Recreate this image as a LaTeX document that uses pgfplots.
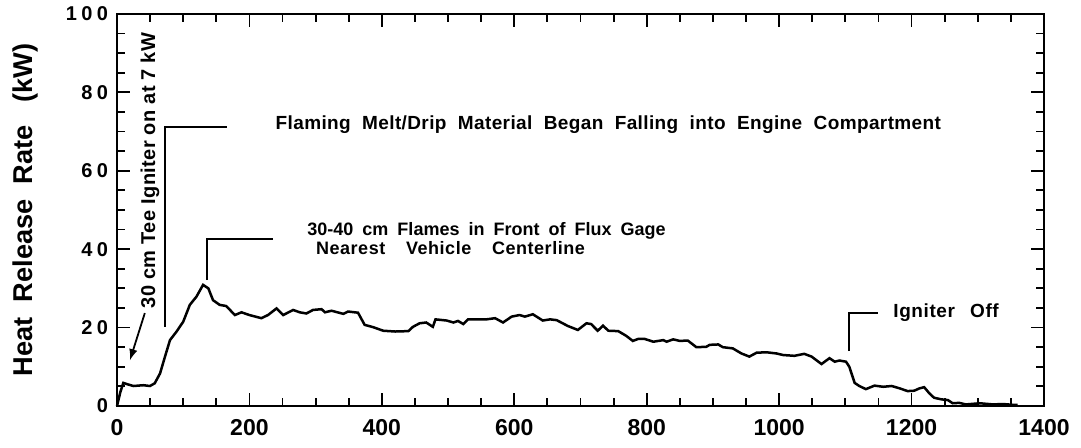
\documentclass[border=0pt]{standalone}
\usepackage{fontspec}
\setmainfont{Liberation Sans}
\newfontfamily\yticks[LetterSpace=22]{Liberation Sans}
\newfontfamily\spaced[LetterSpace=3]{Liberation Sans}
\newfontfamily\spacedb[LetterSpace=2]{Liberation Sans}
\usepackage{pgfplots}
\pgfplotsset{compat=1.18}
\usetikzlibrary{calc}
\newcommand\wide[2]{{\spaceskip=#1\relax #2}}

\begin{document}
\begin{tikzpicture}
\begin{axis}[
  scale only axis,
  width=463.5pt, height=196pt,
  xmin=0, xmax=1400, ymin=0, ymax=100,
  xtick={0,200,...,1400}, ytick={0,20,...,100},
  minor x tick num=3, minor y tick num=3,
  tick align=inside,
  major tick length=6.5pt, minor tick length=4pt,
  tick style={black, line width=0.9pt},
  axis line style={line width=1pt},
  /pgf/number format/assume math mode=true,
  /pgf/number format/1000 sep={},
  xticklabel style={font=\fontsize{11.5}{12}\selectfont\bfseries, yshift=-3pt},
  yticklabel style={font=\fontsize{10}{11}\yticks\bfseries, xshift=-1pt},
  ylabel={Heat\ \ Release\ \ Rate\ \ \ (kW)},
  ylabel style={font=\fontsize{13.6}{15}\selectfont\bfseries, yshift=7pt},
  clip=false,
]
\addplot[black, line width=1.25pt] coordinates {
(0,0)(5,3.5)(9.5,5.9)(14.6,5.6)(24.7,5.1)(39.7,5.3)(49.8,5.1)(57,5.8)(65,8.3)
(72.5,12.6)(80,16.8)(90,19)(100,21.5)(110,25.8)(120,27.9)(130,30.9)(138,30)
(145,27)(155,25.8)(165,25.5)(178,23.2)(188,23.9)(200,23.2)(218,22.4)(228,23.2)
(241,24.9)(251,23.2)(266,24.5)(276,23.9)(286,23.6)(296,24.5)(309,24.7)(314,23.9)
(324,24.3)(342,23.5)(349,24.1)(364,23.8)(374,20.7)(387,20.1)(402,19.2)(420,19)
(440,19.1)(447,20.2)(457,21.1)(467,21.3)(477,20.2)(481,22.1)(498,21.8)(508,21.3)
(515,21.7)(523,20.9)(530,22.1)(543,22.1)(558,22.1)(571,22.4)(583,21.3)(596,22.8)
(608,23.2)(616,22.8)(628,23.4)(643,21.8)(654,22.1)(664,21.9)(681,20.4)(696,19.4)
(709,21.1)(716,20.9)(726,19.2)(734,20.5)(742,19.2)(757,19.1)(769,17.9)(779,16.6)
(787,17.1)(797,17.1)(810,16.4)(825,16.8)(830,16.4)(840,17)(850,16.6)(862,16.7)
(875,15)(890,15.1)(895,15.6)(908,15.7)(915,15)(930,14.7)(943,13.4)(955,12.6)
(966,13.6)(981,13.7)(996,13.4)(1006,13)(1023,12.8)(1038,13.3)(1049,12.6)(1064,10.7)
(1076,12.2)(1084,11.3)(1091,11.6)(1101,11.3)(1106,10)(1114,5.9)(1121,5.1)(1131,4.3)
(1144,5.2)(1157,4.9)(1170,5.1)(1182,4.5)(1194,3.8)(1204,3.9)(1212,4.5)(1219,4.8)
(1227,3.2)(1234,2.1)(1245,1.7)(1255,1.5)(1262,0.7)(1272,0.8)(1282,0.4)(1303,0.7)
(1323,0.4)(1338,0.5)(1353,0.3)(1360,0.3)
};
% annotations
\draw[line width=1pt] (axis cs:72.5,20.2) -- (axis cs:72.5,71.2) -- (axis cs:166,71.2);
\node[anchor=west, font=\fontsize{9.5}{10}\spacedb\bfseries]
  at (axis cs:229,71.7) {\wide{0.6em}{Flaming Melt/Drip Material Began Falling into Engine Compartment}};
\draw[line width=1pt] (axis cs:136,32.1) -- (axis cs:136,42.6) -- (axis cs:235.5,42.6);
\node[anchor=west, font=\fontsize{9}{10}\selectfont\bfseries]
  at (axis cs:277,44.6) {\wide{0.5em}{30-40 cm Flames in Front of Flux Gage}};
\node[anchor=west, font=\fontsize{9}{10}\spaced\bfseries]
  at (axis cs:290,40.2) {\wide{1.15em}{Nearest Vehicle Centerline}};
\draw[line width=1pt] (axis cs:1105,14) -- (axis cs:1105,23.7) -- (axis cs:1149,23.7);
\node[anchor=west, font=\fontsize{9.5}{10}\spaced\bfseries]
  at (axis cs:1162,23.7) {\wide{0.8em}{Igniter Off}};
\node[rotate=90, font=\fontsize{10}{11}\spacedb\bfseries]
  at (axis cs:50,60.1) {30 cm Tee Igniter on at 7 kW};
\draw[line width=0.9pt, -latex] (axis cs:42,23.7) -- (axis cs:19.6,11.7);
\end{axis}
\pgfresetboundingbox
\path[use as bounding box] ($(current axis.south west)+(-58.5pt,-21pt)$)
  rectangle ($(current axis.north east)+(18.5pt,7pt)$);
\end{tikzpicture}
\end{document}
